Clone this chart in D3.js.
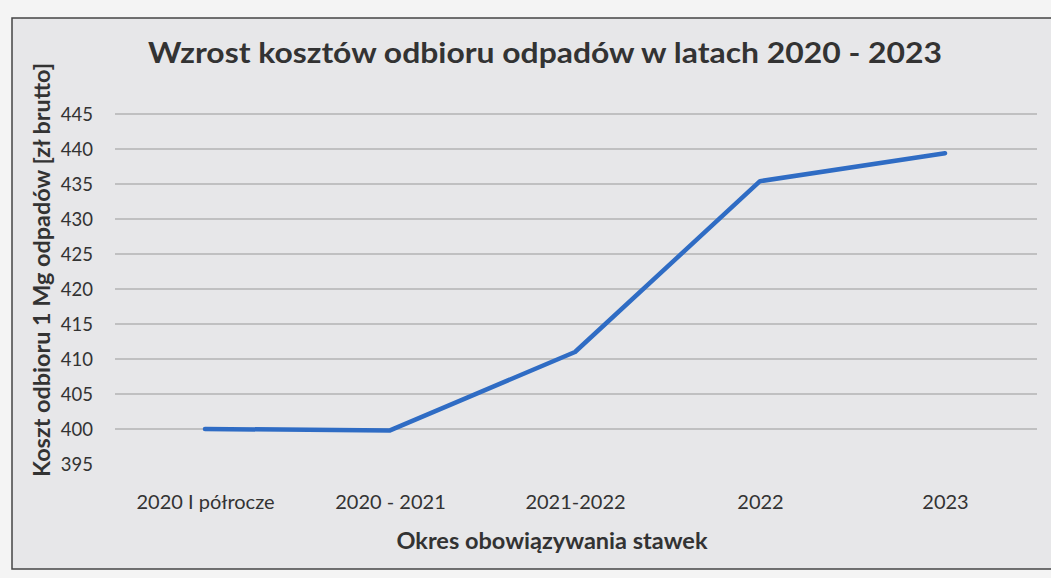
<!DOCTYPE html>
<html><head><meta charset="utf-8">
<script src="https://cdn.jsdelivr.net/npm/d3@7"></script>
<style>body{margin:0;background:#f4f4f4;} svg{display:block;}</style>
</head><body>
<svg id="c" width="1051" height="578"></svg>
<script>
const categories = ["2020 I półrocze", "2020 - 2021", "2021-2022", "2022", "2023"];
const values = [400, 399.8, 411, 435.4, 439.4];
const yTicks = [395, 400, 405, 410, 415, 420, 425, 430, 435, 440, 445];
const title = "Wzrost kosztów odbioru odpadów w latach 2020 - 2023";
const xTitle = "Okres obowiązywania stawek";
const yTitle = "Koszt odbioru 1 Mg odpadów [zł brutto]";

const svg = d3.select("#c");
const font = "Lato, 'Open Sans', sans-serif";

svg.append("rect").attr("x", 12).attr("y", 18).attr("width", 1050).attr("height", 551)
  .attr("fill", "#e7e7e9").attr("stroke", "#444").attr("stroke-width", 1.5);

const x = d3.scalePoint().domain(categories).range([205, 945]);
const y = d3.scaleLinear().domain([395, 445]).range([464, 114]);

const grid = svg.append("g");
grid.selectAll("line").data(yTicks.filter(t => t > 395)).join("line")
  .attr("x1", 115).attr("x2", 1037)
  .attr("y1", d => y(d)).attr("y2", d => y(d))
  .attr("stroke", "#9a9a9a").attr("stroke-width", 1.2);

const yAxis = d3.axisLeft(y).tickValues(yTicks).tickSize(0).tickPadding(0);
const ya = svg.append("g").attr("transform", "translate(93,1)").call(yAxis);
ya.select(".domain").remove();
ya.selectAll("text").attr("font-family", font).attr("font-size", 18.5).attr("fill", "#333");

const xAxis = d3.axisBottom(x).tickSize(0).tickPadding(0);
const xa = svg.append("g").attr("transform", "translate(0,495)").call(xAxis);
xa.select(".domain").remove();
xa.selectAll("text").attr("font-family", font).attr("font-size", 20).attr("fill", "#333");

const line = d3.line().x((d, i) => x(categories[i])).y(d => y(d));
svg.append("path").datum(values).attr("d", line)
  .attr("fill", "none").attr("stroke", "#2f6cc4").attr("stroke-width", 4.5)
  .attr("stroke-linejoin", "round").attr("stroke-linecap", "round");

svg.append("text").attr("x", 545).attr("y", 63).attr("text-anchor", "middle")
  .attr("font-family", font).attr("font-weight", "bold").attr("font-size", 29)
  .attr("fill", "#333").attr("textLength", 794).attr("lengthAdjust", "spacingAndGlyphs").text(title);

svg.append("text").attr("x", 552).attr("y", 549).attr("text-anchor", "middle")
  .attr("font-family", font).attr("font-weight", "bold").attr("font-size", 22)
  .attr("fill", "#333").attr("textLength", 311).attr("lengthAdjust", "spacingAndGlyphs").text(xTitle);

svg.append("text").attr("transform", "translate(50,270) rotate(-90)").attr("text-anchor", "middle")
  .attr("font-family", font).attr("font-weight", "bold").attr("font-size", 22)
  .attr("fill", "#333").attr("textLength", 414).attr("lengthAdjust", "spacingAndGlyphs").text(yTitle);
</script>
</body></html>
